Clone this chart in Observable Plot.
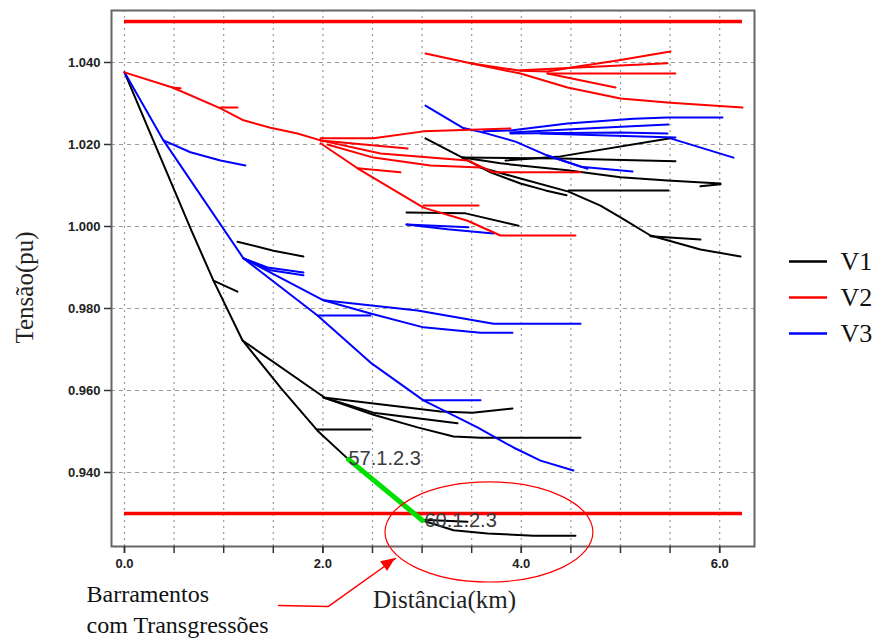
<!DOCTYPE html>
<html>
<head>
<meta charset="utf-8">
<script src="https://cdn.jsdelivr.net/npm/d3@7"></script>
<script src="https://cdn.jsdelivr.net/npm/@observablehq/plot@0.6"></script>
<style>
  html, body { margin: 0; padding: 0; background: #fff; }
  #chart { width: 882px; height: 639px; }
</style>
</head>
<body>
<div id="chart"></div>
<script>
// ---------- data (km, pu) ----------
const seriesNames = ["V1", "V2", "V3"];
const seriesColors = ["#000000", "#ff0000", "#0000ff"];

const v1Lines = [
  [[0,1.0376],[0.675,0.9990],[0.897,0.9868],[1.190,0.9722],[1.573,0.9607],[1.946,0.9502],[2.258,0.9432]],
  [[3.004,0.9283],[3.317,0.9259],[3.659,0.9251],[4.123,0.9246],[4.546,0.9246]],
  [[3.004,0.9285],[3.458,0.9280]],
  [[0.897,0.9868],[1.139,0.9841]],
  [[1.139,0.9963],[1.502,0.9941],[1.804,0.9927]],
  [[1.190,0.9722],[2.016,0.9583]],
  [[2.006,0.9583],[3.185,0.9549],[3.508,0.9546],[3.911,0.9556]],
  [[2.006,0.9583],[2.510,0.9546],[3.357,0.9520]],
  [[2.006,0.9583],[2.510,0.9541],[2.954,0.9510],[3.317,0.9488],[3.589,0.9485],[4.597,0.9485]],
  [[1.946,0.9505],[2.480,0.9505]],
  [[2.843,1.0034],[3.438,1.0032],[3.972,1.0002]],
  [[3.034,1.0215],[3.407,1.0168],[3.690,1.0132],[3.992,1.0105],[4.244,1.0088],[4.456,1.0076]],
  [[3.407,1.0168],[3.790,1.0154],[4.466,1.0137],[5.000,1.0120],[5.474,1.0112],[6.008,1.0105]],
  [[5.806,1.0098],[6.008,1.0103]],
  [[3.407,1.0168],[4.395,1.0166],[5.554,1.0159]],
  [[3.841,1.0161],[4.395,1.0171],[5.504,1.0215]],
  [[3.589,1.0144],[3.992,1.0117],[4.476,1.0085],[4.798,1.0051],[5.000,1.0022],[5.302,0.9978],[5.806,0.9944],[6.210,0.9927]],
  [[4.476,1.0088],[5.484,1.0088]],
  [[5.302,0.9976],[5.806,0.9968]]
];

const v2Lines = [
  [[0,1.0376],[0.484,1.0339],[0.968,1.0288],[1.200,1.0259],[1.472,1.0241],[1.744,1.0227],[1.976,1.0210]],
  [[0.484,1.0339],[0.565,1.0337]],
  [[0.968,1.0290],[1.139,1.0290]],
  [[1.976,1.0215],[2.510,1.0215],[3.014,1.0232],[3.891,1.0239]],
  [[1.976,1.0210],[2.853,1.0190]],
  [[1.976,1.0210],[2.581,1.0178],[3.458,1.0161],[3.720,1.0132],[4.597,1.0132]],
  [[2.046,1.0200],[2.510,1.0168],[3.085,1.0149],[3.589,1.0144]],
  [[1.976,1.0203],[2.349,1.0142],[3.014,1.0046],[3.458,1.0014],[3.790,0.9978],[4.546,0.9978]],
  [[2.349,1.0142],[2.782,1.0132]],
  [[3.014,1.0051],[3.569,1.0051]],
  [[3.034,1.0422],[3.488,1.0398],[3.992,1.0373],[4.466,1.0339],[5.000,1.0312],[5.504,1.0302],[6.230,1.0290]],
  [[3.488,1.0398],[3.992,1.0380],[4.264,1.0378],[4.567,1.0390],[4.970,1.0405],[5.504,1.0427]],
  [[3.992,1.0381],[5.474,1.0398]],
  [[4.264,1.0373],[5.554,1.0373]],
  [[4.264,1.0373],[4.950,1.0339]]
];

const v3Lines = [
  [[0,1.0376],[0.393,1.0210],[1.200,0.9922],[1.946,0.9783],[2.480,0.9668],[3.014,0.9576],[3.558,0.9510],[3.921,0.9461],[4.194,0.9429],[4.526,0.9405]],
  [[0.393,1.0210],[0.665,1.0181],[0.968,1.0161],[1.220,1.0149]],
  [[1.200,0.9922],[1.442,0.9900],[1.804,0.9888]],
  [[1.200,0.9922],[1.472,0.9893],[1.804,0.9881]],
  [[1.200,0.9922],[2.006,0.9820],[2.954,0.9795],[3.720,0.9763],[4.597,0.9763]],
  [[2.006,0.9820],[2.480,0.9788],[3.014,0.9754],[3.589,0.9741],[3.911,0.9741]],
  [[1.946,0.9783],[2.480,0.9783]],
  [[3.014,0.9576],[3.589,0.9576]],
  [[2.843,1.0005],[3.467,0.9998]],
  [[2.843,1.0005],[3.256,0.9993],[3.720,0.9983]],
  [[3.034,1.0295],[3.407,1.0241],[3.619,1.0229]],
  [[3.619,1.0229],[3.942,1.0207],[4.264,1.0173],[4.667,1.0141]],
  [[4.264,1.0173],[4.597,1.0146],[5.121,1.0134]],
  [[3.619,1.0232],[3.891,1.0234],[4.466,1.0251],[5.131,1.0263],[5.474,1.0266],[6.028,1.0266]],
  [[3.891,1.0229],[4.798,1.0241],[5.484,1.0249]],
  [[3.891,1.0227],[5.000,1.0229],[5.474,1.0227]],
  [[4.194,1.0227],[5.554,1.0217]],
  [[5.504,1.0215],[6.139,1.0168]]
];

const violationLine = [[2.258,0.9432],[3.004,0.9283]];
const violationLabels = [
  {label: "57.1.2.3", km: 2.258, pu: 0.9434},
  {label: "60.1.2.3", km: 3.024, pu: 0.9283}
];

const limitValues = [1.05, 0.93];
const limitExtent = [0, 6.23];

const xTickValues = [0,0.5,1,1.5,2,2.5,3,3.5,4,4.5,5,5.5,6];
const xTickLabels = [0,2,4,6];
const yTickValues = [0.94,0.96,0.98,1.00,1.02,1.04];

// ---------- build table ----------
const rows = [];
[v1Lines, v2Lines, v3Lines].forEach((lines, s) => {
  lines.forEach((pts, i) => {
    pts.forEach(([km, pu]) => rows.push({series: seriesNames[s], id: seriesNames[s] + "-" + i, km, pu}));
  });
});
// draw order: V1, V3, V2
const order = {V1: 0, V3: 1, V2: 2};
rows.sort((a, b) => order[a.series] - order[b.series]);

const greenRows = violationLine.map(([km, pu]) => ({km, pu}));

const legendRows = seriesNames.map((name, i) => ({name, color: seriesColors[i], pu: [0.99146, 0.98268, 0.97390][i]}));

const arrowPath = [[1.552,0.90756],[2.056,0.90732],[2.732,0.91902]].map(([km, pu]) => ({km, pu}));

const serif = "'Liberation Serif', 'Times New Roman', serif";
const sans = "'Liberation Sans', Arial, sans-serif";

const svg = Plot.plot({
  width: 882,
  height: 639,
  marginLeft: 111,
  marginRight: 128,
  marginTop: 10,
  marginBottom: 93,
  style: {background: "#fff", fontFamily: sans, overflow: "visible"},
  x: {domain: [-0.131, 6.351]},
  y: {domain: [0.92195, 1.05268]},
  color: {domain: seriesNames, range: seriesColors},
  marks: [
    Plot.ruleX(xTickValues, {stroke: "#9a9a9a", strokeWidth: 1.2, strokeDasharray: "2,4"}),
    Plot.ruleY(yTickValues, {stroke: "#9a9a9a", strokeWidth: 1.2, strokeDasharray: "4,4"}),
    Plot.frame({stroke: "#666", strokeWidth: 2}),
    Plot.axisY(yTickValues, {tickSize: 7, tickPadding: 4, tickFormat: d3.format(".3f"), fontSize: 13, fontWeight: "bold", fontFamily: sans, fill: "#222", stroke: "#333", strokeWidth: 1.5, label: null}),
    Plot.axisX(xTickValues, {tickSize: 7, tickFormat: () => "", stroke: "#333", strokeWidth: 1.5, label: null}),
    Plot.axisX(xTickLabels, {tickSize: 7, tickPadding: 5, tickFormat: d3.format(".1f"), fontSize: 13, fontWeight: "bold", fontFamily: sans, fill: "#222", stroke: "#333", strokeWidth: 1.5, label: null}),
    Plot.ruleY(limitValues, {x1: limitExtent[0], x2: limitExtent[1], stroke: "#ff0000", strokeWidth: 3.5}),
    Plot.line(rows, {x: "km", y: "pu", z: "id", stroke: "series", strokeWidth: 2}),
    Plot.line(greenRows, {x: "km", y: "pu", stroke: "#00e000", strokeWidth: 5}),
    Plot.text(violationLabels, {x: "km", y: "pu", text: "label", textAnchor: "start", fontSize: 20, fontFamily: sans, fill: "#3a3a3a"}),
    // axis titles
    Plot.text(["Distância(km)"], {x: 3.226, y: 0.90902, text: d => d, fontSize: 25, fontFamily: serif, fill: "#222"}),
    Plot.text(["Tensão(pu)"], {x: -0.998, y: 0.98512, text: d => d, rotate: -90, fontSize: 25, fontFamily: serif, fill: "#222"}),
    // legend
    Plot.ruleY(legendRows, {y: "pu", x1: 6.704, x2: 7.087, stroke: "color", strokeWidth: 2.5}),
    Plot.text(legendRows, {y: "pu", x: 7.218, text: "name", textAnchor: "start", fontSize: 26, fontFamily: serif, fill: "#111"}),
    // annotation
    Plot.text(["Barramentos", "com Transgressões"], {x: -0.383, y: (d, i) => [0.91024, 0.90268][i], text: d => d, textAnchor: "start", fontSize: 24, fontFamily: serif, fill: "#111"}),
    Plot.line(arrowPath, {x: "km", y: "pu", stroke: "#ff0000", strokeWidth: 1.5})
  ]
});

// ellipse and arrow head placed through the plot's own scales
const X = svg.scale("x"), Y = svg.scale("y");
const ellipseCenter = [3.679, 0.92537];
const ellipseRadii = [1.048, 0.0122];
const cx = X.apply(ellipseCenter[0]), cy = Y.apply(ellipseCenter[1]);
const rx = X.apply(ellipseCenter[0] + ellipseRadii[0]) - cx;
const ry = Y.apply(ellipseCenter[1] - ellipseRadii[1]) - cy;
d3.select(svg).append("ellipse")
  .attr("cx", cx).attr("cy", cy).attr("rx", rx).attr("ry", ry)
  .attr("fill", "none").attr("stroke", "#ff0000").attr("stroke-width", 1.2);

const a = arrowPath[1], b = arrowPath[2];
const ax = X.apply(a.km), ay = Y.apply(a.pu), bx = X.apply(b.km), by = Y.apply(b.pu);
const ang = Math.atan2(by - ay, bx - ax);
const hl = 14, hw = 6;
const p1 = [bx - hl * Math.cos(ang) + hw * Math.sin(ang), by - hl * Math.sin(ang) - hw * Math.cos(ang)];
const p2 = [bx - hl * Math.cos(ang) - hw * Math.sin(ang), by - hl * Math.sin(ang) + hw * Math.cos(ang)];
d3.select(svg).append("polygon")
  .attr("points", [[bx, by], p1, p2].map(p => p.join(",")).join(" "))
  .attr("fill", "#ff0000");

document.getElementById("chart").appendChild(svg);
</script>
</body>
</html>
